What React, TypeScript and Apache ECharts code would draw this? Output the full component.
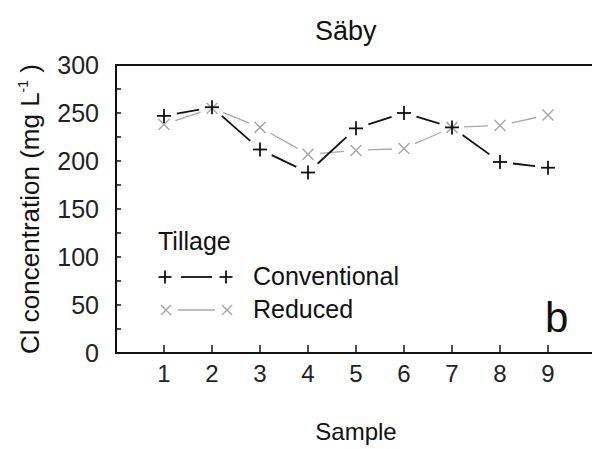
import React, { useEffect, useRef } from "react";
import * as echarts from "echarts";

const samples = [1, 2, 3, 4, 5, 6, 7, 8, 9];
const conventional = [247, 256, 212, 188, 234, 250, 235, 199, 193];
const reduced = [238, 255, 235, 207, 211, 213, 235, 237, 248];
const seriesNames = ["Conventional", "Reduced"];
const legendTitle = "Tillage";
const chartTitle = "Säby";
const panelLetter = "b";

const FONT = "'Liberation Sans', Arial, Helvetica, sans-serif";
const BLACK = "#111";
const GRAY = "#a8a8a8";

function markerLines(type: string, cx: number, cy: number, h: number, color: string, lw: number) {
  if (type === "plus") {
    return [
      { type: "line", shape: { x1: cx - h, y1: cy, x2: cx + h, y2: cy }, style: { stroke: color, lineWidth: lw } },
      { type: "line", shape: { x1: cx, y1: cy - h, x2: cx, y2: cy + h }, style: { stroke: color, lineWidth: lw } },
    ];
  }
  return [
    { type: "line", shape: { x1: cx - h, y1: cy - h, x2: cx + h, y2: cy + h }, style: { stroke: color, lineWidth: lw } },
    { type: "line", shape: { x1: cx - h, y1: cy + h, x2: cx + h, y2: cy - h }, style: { stroke: color, lineWidth: lw } },
  ];
}

function makeSeries(name: string, vals: number[], color: string, lineWidth: number, mType: string, mHalf: number, mWidth: number, gap: number) {
  return {
    type: "custom",
    name,
    data: samples.map((s, i) => [s, vals[i]]),
    encode: { x: 0, y: 1 },
    clip: false,
    renderItem: (params: any, api: any) => {
      const i = params.dataIndex;
      const p = api.coord([api.value(0), api.value(1)]);
      const children: any[] = markerLines(mType, p[0], p[1], mHalf, color, mWidth);
      if (i < samples.length - 1) {
        const q = api.coord([samples[i + 1], vals[i + 1]]);
        const dx = q[0] - p[0];
        const dy = q[1] - p[1];
        const len = Math.hypot(dx, dy);
        if (len > 2 * gap) {
          const ux = dx / len;
          const uy = dy / len;
          children.push({
            type: "line",
            shape: { x1: p[0] + ux * gap, y1: p[1] + uy * gap, x2: q[0] - ux * gap, y2: q[1] - uy * gap },
            style: { stroke: color, lineWidth },
          });
        }
      }
      return { type: "group", children };
    },
  };
}

export default function App() {
  const ref = useRef<HTMLDivElement>(null);
  useEffect(() => {
    if (!ref.current) return;
    const chart = echarts.init(ref.current, null, { renderer: "svg" });
    const legendGraphic: any[] = [
      { type: "text", left: 158, top: 228, style: { text: legendTitle, font: `25px ${FONT}`, fill: BLACK } },
      ...markerLines("plus", 165, 277, 6.5, BLACK, 1.8),
      { type: "line", shape: { x1: 181, y1: 277, x2: 212, y2: 277 }, style: { stroke: BLACK, lineWidth: 1.8 } },
      ...markerLines("plus", 226, 277, 6.5, BLACK, 1.8),
      { type: "text", left: 253, top: 263, style: { text: seriesNames[0], font: `25px ${FONT}`, fill: BLACK } },
      ...markerLines("cross", 166, 310, 5, GRAY, 1.5),
      { type: "line", shape: { x1: 178, y1: 310, x2: 215, y2: 310 }, style: { stroke: GRAY, lineWidth: 1.3 } },
      ...markerLines("cross", 227, 310, 5, GRAY, 1.5),
      { type: "text", left: 253, top: 296, style: { text: seriesNames[1], font: `25px ${FONT}`, fill: BLACK } },
      { type: "text", left: 545, top: 296, style: { text: panelLetter, font: `42px ${FONT}`, fill: BLACK } },
    ];
    chart.setOption({
      animation: false,
      backgroundColor: "#fff",
      title: {
        text: chartTitle,
        left: 310,
        top: 12,
        textStyle: { fontFamily: FONT, fontSize: 27, fontWeight: "normal", color: BLACK },
      },
      grid: {
        left: 116,
        right: -4,
        top: 65,
        bottom: 96,
        show: true,
        borderColor: BLACK,
        borderWidth: 2,
        backgroundColor: "transparent",
        containLabel: false,
        outerBoundsMode: "none",
      },
      xAxis: {
        type: "value",
        min: 0,
        max: 10,
        interval: 1,
        name: "Sample",
        nameLocation: "middle",
        nameGap: 66,
        nameTextStyle: { fontFamily: FONT, fontSize: 24, color: BLACK },
        axisLine: { show: true, lineStyle: { color: BLACK, width: 2 } },
        axisTick: { show: true, inside: true, length: 8, lineStyle: { color: BLACK, width: 1.5 } },
        splitLine: { show: false },
        axisLabel: {
          margin: 8,
          fontFamily: FONT,
          fontSize: 24,
          color: "#222",
          formatter: (v: number) => (v >= 1 && v <= 9 ? String(v) : ""),
        },
      },
      yAxis: {
        type: "value",
        min: 0,
        max: 300,
        interval: 25,
        name: "{a|Cl concentration (mg L}{s|-1}{a| )}",
        nameLocation: "middle",
        nameRotate: 90,
        nameGap: 72,
        nameTextStyle: {
          rich: {
            a: { fontFamily: FONT, fontSize: 26, color: BLACK, lineHeight: 28 },
            s: { fontFamily: FONT, fontSize: 14, color: BLACK, verticalAlign: "top", lineHeight: 28 },
          },
        },
        axisLine: { show: true, lineStyle: { color: BLACK, width: 2 } },
        axisTick: { show: true, inside: true, length: 5, lineStyle: { color: BLACK, width: 1.5 } },
        splitLine: { show: false },
        axisLabel: {
          margin: 17,
          fontFamily: FONT,
          fontSize: 25,
          color: "#222",
          formatter: (v: number) => (v % 50 === 0 ? String(v) : ""),
        },
      },
      graphic: legendGraphic,
      series: [
        makeSeries(seriesNames[1], reduced, GRAY, 1.3, "cross", 5.5, 1.5, 12),
        makeSeries(seriesNames[0], conventional, BLACK, 1.8, "plus", 7, 1.8, 13),
      ],
    });
    return () => chart.dispose();
  }, []);
  return <div ref={ref} style={{ position: "fixed", left: 0, top: 0, width: 592, height: 449, background: "#fff" }} />;
}
